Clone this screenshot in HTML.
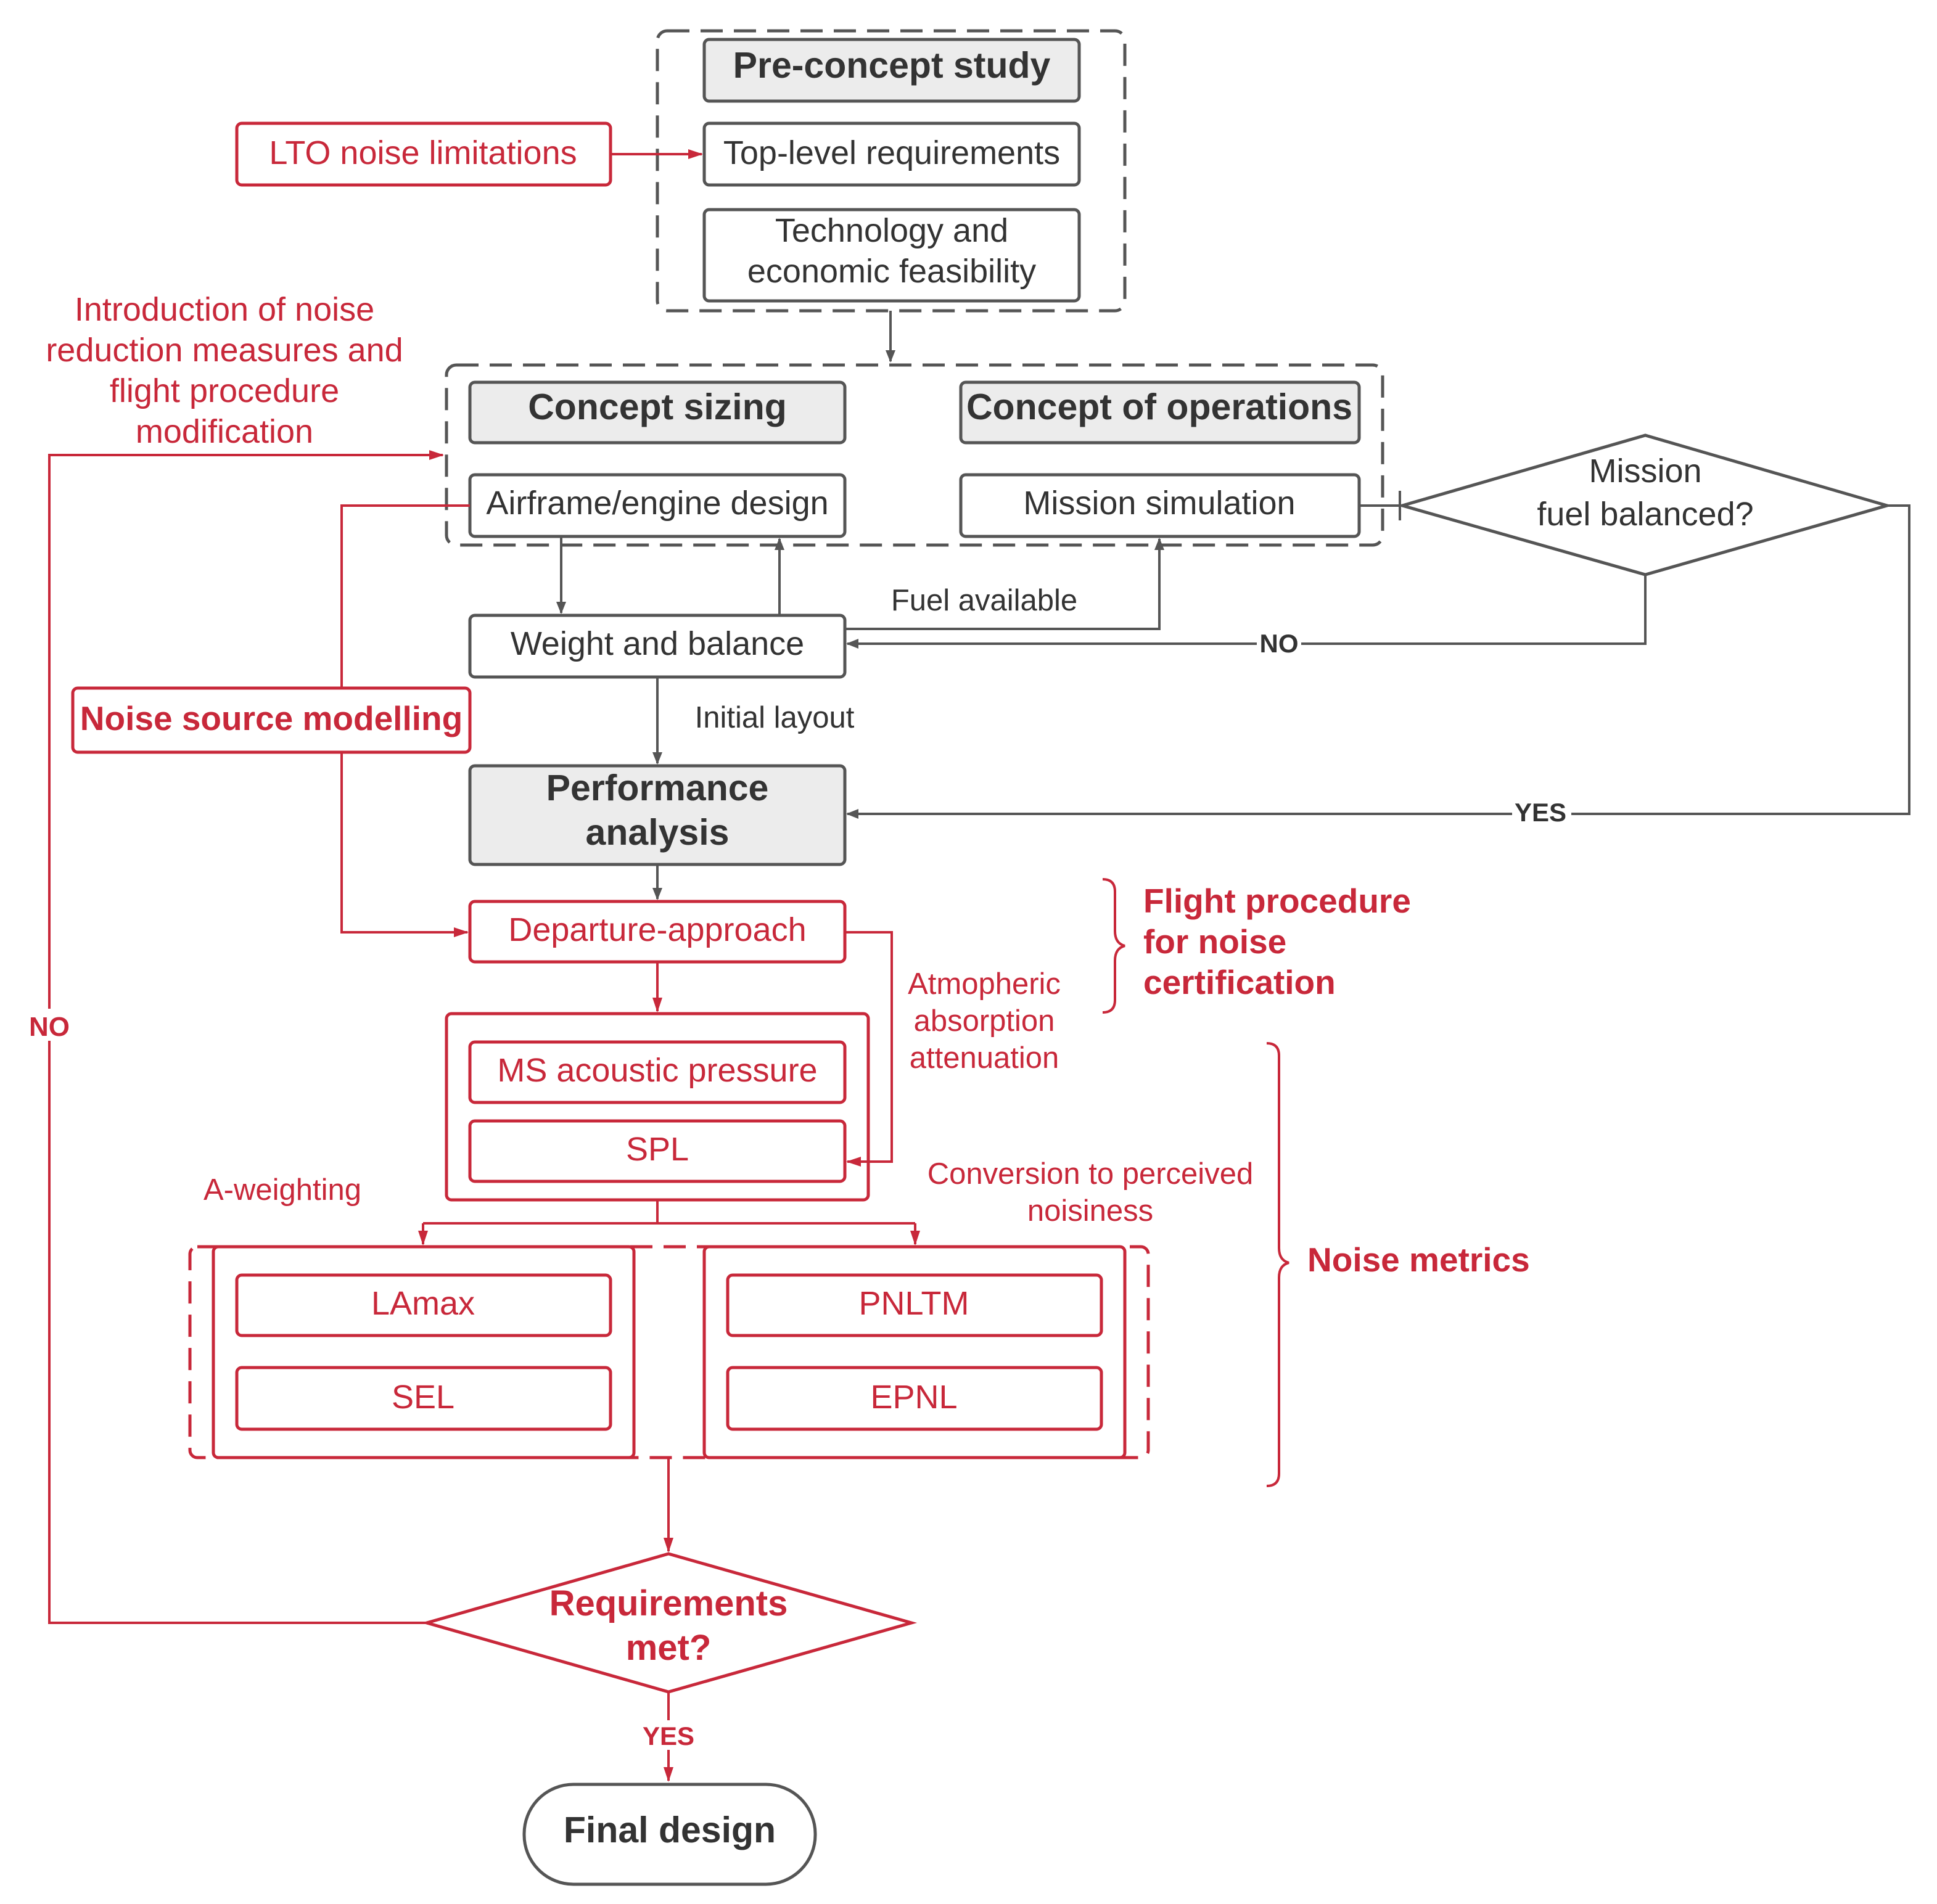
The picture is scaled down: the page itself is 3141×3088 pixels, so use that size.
<!DOCTYPE html>
<html><head><meta charset="utf-8"><style>
html,body{margin:0;padding:0;background:#fff;}
svg{display:block;}
text{font-family:"Liberation Sans",Arial,sans-serif;}
</style></head><body>
<svg width="3141" height="3088" viewBox="0 0 1570.5 1544" xmlns="http://www.w3.org/2000/svg">
<defs>
<marker id="ag" markerWidth="10" markerHeight="10" refX="9" refY="5" orient="auto" markerUnits="userSpaceOnUse"><path d="M0,1 L10,5 L0,9 Z" fill="#555"/></marker>
<marker id="ar" markerWidth="12" markerHeight="10" refX="11" refY="5" orient="auto" markerUnits="userSpaceOnUse"><path d="M0,1 L12,5 L0,9 Z" fill="#c8283a"/></marker>
</defs>
<g fill="none" stroke-width="2.5">
<rect x="533" y="25" width="379" height="227" rx="8" stroke="#555" stroke-dasharray="18,9"/>
<rect x="362" y="296" width="759" height="146" rx="8" stroke="#555" stroke-dasharray="18,9"/>
</g>
<g stroke="#555" stroke-width="2.5">
<rect x="571" y="32" width="304" height="50" rx="4" fill="#ececec"/>
<rect x="571" y="100" width="304" height="50" rx="4" fill="#fff"/>
<rect x="571" y="170" width="304" height="74" rx="4" fill="#fff"/>
<rect x="381" y="310" width="304" height="49" rx="4" fill="#ececec"/>
<rect x="779" y="310" width="323" height="49" rx="4" fill="#ececec"/>
<rect x="381" y="385" width="304" height="50" rx="4" fill="#fff"/>
<rect x="779" y="385" width="323" height="50" rx="4" fill="#fff"/>
<rect x="381" y="499" width="304" height="50" rx="4" fill="#fff"/>
<rect x="381" y="621" width="304" height="80" rx="4" fill="#ececec"/>
<polygon points="1137,410 1334,353 1530,410 1334,466" fill="#fff"/>
<rect x="425" y="1447" width="236" height="81" rx="40" fill="#fff"/>
</g>
<g fill="none" stroke="#555" stroke-width="2">
<line x1="722" y1="252" x2="722" y2="293" marker-end="url(#ag)"/>
<line x1="1102" y1="410" x2="1137" y2="410"/>
<line x1="1135" y1="398" x2="1135" y2="422"/>
<line x1="455" y1="435" x2="455" y2="497" marker-end="url(#ag)"/>
<line x1="632" y1="499" x2="632" y2="437" marker-end="url(#ag)"/>
<polyline points="685,510 940,510 940,437" marker-end="url(#ag)"/>
<polyline points="1334,466 1334,522 687,522" marker-end="url(#ag)"/>
<polyline points="1530,410 1548,410 1548,660 687,660" marker-end="url(#ag)"/>
<line x1="533" y1="549" x2="533" y2="619" marker-end="url(#ag)"/>
<line x1="533" y1="701" x2="533" y2="729" marker-end="url(#ag)"/>
</g>
<g stroke="#c8283a" stroke-width="2.5" fill="#fff">
<rect x="192" y="100" width="303" height="50" rx="4"/>
<rect x="59" y="558" width="322" height="52" rx="4"/>
<rect x="381" y="731" width="304" height="49" rx="4"/>
<rect x="362" y="822" width="342" height="151" rx="4"/>
<rect x="381" y="845" width="304" height="49" rx="4"/>
<rect x="381" y="909" width="304" height="49" rx="4"/>
<rect x="154" y="1011" width="777" height="171" rx="6" fill="none" stroke-dasharray="18,9"/>
<rect x="173" y="1011" width="341" height="171" rx="4"/>
<rect x="571" y="1011" width="341" height="171" rx="4"/>
<rect x="192" y="1034" width="303" height="49" rx="4"/>
<rect x="192" y="1109" width="303" height="50" rx="4"/>
<rect x="590" y="1034" width="303" height="49" rx="4"/>
<rect x="590" y="1109" width="303" height="50" rx="4"/>
<polygon points="346,1316 542,1260 739,1316 542,1372"/>
</g>
<g fill="none" stroke="#c8283a" stroke-width="2">
<line x1="495" y1="125" x2="569" y2="125" marker-end="url(#ar)"/>
<polyline points="381,410 277,410 277,558"/>
<polyline points="277,610 277,756 379,756" marker-end="url(#ar)"/>
<line x1="533" y1="780" x2="533" y2="820" marker-end="url(#ar)"/>
<polyline points="685,756 723,756 723,942 687,942" marker-end="url(#ar)"/>
<polyline points="533,973 533,992"/>
<polyline points="343,992 742,992"/>
<line x1="343" y1="992" x2="343" y2="1009" marker-end="url(#ar)"/>
<line x1="742" y1="992" x2="742" y2="1009" marker-end="url(#ar)"/>
<line x1="542" y1="1182" x2="542" y2="1258" marker-end="url(#ar)"/>
<polyline points="346,1316 40,1316 40,369 359,369" marker-end="url(#ar)"/>
<line x1="542" y1="1372" x2="542" y2="1444" marker-end="url(#ar)"/>
<path d="M894,713 Q904,713 904,723 L904,755 Q904,765 912,767 Q904,769 904,779 L904,811 Q904,821 894,821"/>
<path d="M1027,846 Q1037,846 1037,856 L1037,1012 Q1037,1022 1045,1024 Q1037,1026 1037,1036 L1037,1195 Q1037,1205 1027,1205"/>
</g>
<!-- label backgrounds -->
<g fill="#fff">
<rect x="1019" y="510" width="36" height="24"/>
<rect x="1226" y="648" width="48" height="24"/>
<rect x="20" y="818" width="40" height="26"/>
<rect x="518" y="1395" width="50" height="24"/>
</g>
<g fill="#333" font-size="27" text-anchor="middle">
<text x="723" y="63" font-weight="bold" font-size="29.5">Pre-concept study</text>
<text x="723" y="133">Top-level requirements</text>
<text x="723" y="196">Technology and</text>
<text x="723" y="229">economic feasibility</text>
<text x="533" y="340" font-weight="bold" font-size="29.5">Concept sizing</text>
<text x="940" y="340" font-weight="bold" font-size="29.5">Concept of operations</text>
<text x="533" y="417">Airframe/engine design</text>
<text x="940" y="417">Mission simulation</text>
<text x="1334" y="391">Mission</text>
<text x="1334" y="426">fuel balanced?</text>
<text x="533" y="531">Weight and balance</text>
<text x="798" y="495" font-size="24.5">Fuel available</text>
<text x="628" y="590" font-size="24.5">Initial layout</text>
<text x="1037" y="529" font-size="21" font-weight="bold">NO</text>
<text x="1249" y="666" font-size="21" font-weight="bold">YES</text>
<text x="533" y="649" font-weight="bold" font-size="29.5">Performance</text>
<text x="533" y="685" font-weight="bold" font-size="29.5">analysis</text>
<text x="543" y="1494" font-weight="bold" font-size="29.5">Final design</text>
</g>
<g fill="#c8283a" font-size="27" text-anchor="middle">
<text x="343" y="133">LTO noise limitations</text>
<text x="182" y="260">Introduction of noise</text>
<text x="182" y="293">reduction measures and</text>
<text x="182" y="326">flight procedure</text>
<text x="182" y="359">modification</text>
<text x="220" y="592" font-weight="bold" font-size="27.5">Noise source modelling</text>
<text x="533" y="763">Departure-approach</text>
<text x="798" y="806" font-size="24.5">Atmopheric</text>
<text x="798" y="836" font-size="24.5">absorption</text>
<text x="798" y="866" font-size="24.5">attenuation</text>
<text x="533" y="877">MS acoustic pressure</text>
<text x="533" y="941">SPL</text>
<text x="229" y="973" font-size="24.5">A-weighting</text>
<text x="884" y="960" font-size="24.5">Conversion to perceived</text>
<text x="884" y="990" font-size="24.5">noisiness</text>
<text x="343" y="1066">LAmax</text>
<text x="343" y="1142">SEL</text>
<text x="741" y="1066">PNLTM</text>
<text x="741" y="1142">EPNL</text>
<text x="40" y="840" font-weight="bold" font-size="22">NO</text>
<text x="542" y="1310" font-weight="bold" font-size="29">Requirements</text>
<text x="542" y="1346" font-weight="bold" font-size="29">met?</text>
<text x="542" y="1415" font-weight="bold" font-size="21">YES</text>
<g text-anchor="start" font-weight="bold" font-size="27.5">
<text x="927" y="740">Flight procedure</text>
<text x="927" y="773">for noise</text>
<text x="927" y="806">certification</text>
<text x="1060" y="1031">Noise metrics</text>
</g>
</g>
</svg>
</body></html>
